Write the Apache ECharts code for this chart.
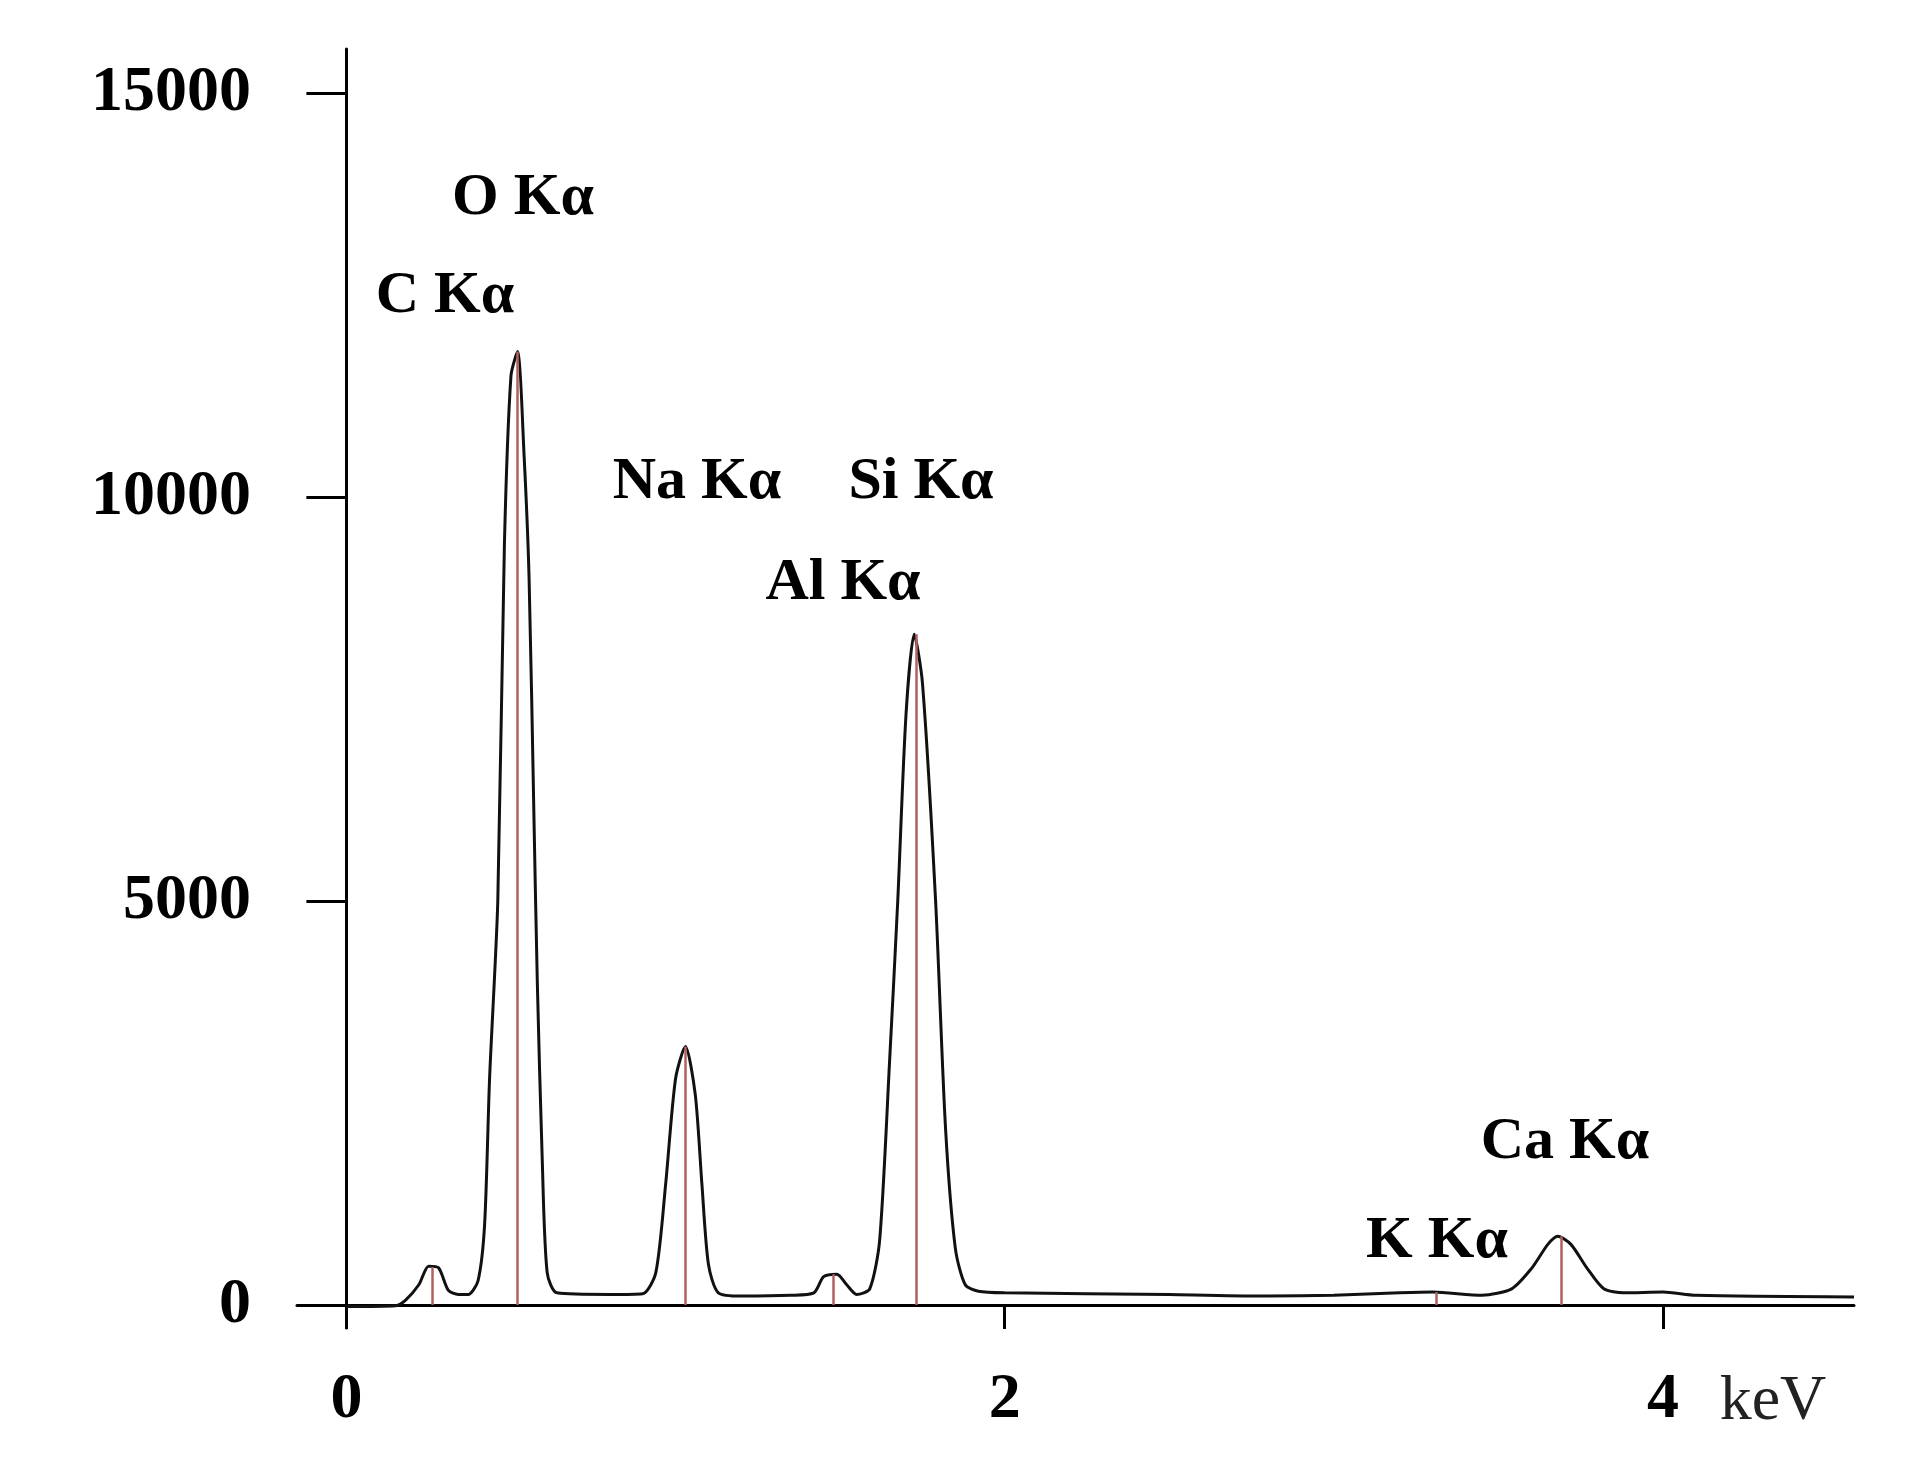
<!DOCTYPE html>
<html><head><meta charset="utf-8">
<script src="https://cdn.jsdelivr.net/npm/echarts@6/dist/echarts.min.js"></script>
<style>html,body{margin:0;background:#fff}#c{width:1928px;height:1470px}</style>
</head><body><div id="c"></div>
<script>
const energy = [0,0.15,0.18,0.22,0.25,0.28,0.31,0.34,0.37,0.40,0.42,0.435,0.46,0.48,0.50,0.52,0.54,0.555,0.57,0.58,0.595,0.61,0.64,0.8,0.90,0.94,0.97,1.0,1.03,1.06,1.08,1.10,1.13,1.2,1.35,1.42,1.45,1.49,1.52,1.55,1.59,1.62,1.65,1.675,1.70,1.725,1.75,1.79,1.82,1.85,1.88,1.92,2.0,2.5,2.8,3.0,3.2,3.3,3.45,3.54,3.60,3.65,3.68,3.72,3.77,3.82,3.88,4.0,4.1,4.58];
const counts = [-20,-10,60,250,480,460,180,130,130,300,1000,2800,5000,9400,11500,11800,10500,9000,6000,4000,1800,400,150,130,140,400,1500,2800,3200,2600,1500,500,150,110,120,150,350,380,250,130,200,800,3000,5000,7300,8300,7700,5000,2200,700,250,170,150,130,110,120,150,160,120,200,450,750,850,750,450,200,150,160,120,100];
const peakNames = ["C Kα","O Kα","Na Kα","Al Kα","Si Kα","K Kα","Ca Kα"];
const peakEnergy = [0.26,0.52,1.03,1.48,1.73,3.31,3.69];
const peakHeight = [470,11800,3200,380,8300,160,850];
const labelPos = [[445,296],[523,198],[697,482],[843,583],[921,482],[1437,1241],[1565,1142]];
const yTicks = [0,5000,10000,15000];
const xTicks = [0,2,4];
const font = "'Liberation Serif', 'DejaVu Serif', serif";
const chart = echarts.init(document.getElementById('c'));
chart.setOption({
  animation:false,
  grid:{left:297,top:49,width:1557,height:1279},
  xAxis:{type:'value',min:-0.15,max:4.58,
    axisLine:{onZero:true,lineStyle:{color:'#000',width:3}},
    splitLine:{show:false},
    axisTick:{customValues:xTicks,length:24,lineStyle:{color:'#000',width:3}},
    axisLabel:{customValues:xTicks,margin:40,fontFamily:font,fontWeight:'bold',fontSize:64,color:'#000'}},
  yAxis:{type:'value',min:-285,max:15545,
    axisLine:{show:true,onZero:true,lineStyle:{color:'#000',width:3}},
    splitLine:{show:false},
    axisTick:{customValues:yTicks,length:40,lineStyle:{color:'#000',width:3}},
    axisLabel:{customValues:yTicks,formatter:v=>String(v),margin:46,fontFamily:font,fontWeight:'bold',fontSize:64,color:'#000'}},
  series:[{type:'line',data:energy.map((e,i)=>[e,counts[i]]),smooth:0.25,symbol:'none',
    lineStyle:{color:'#111',width:3},
    markLine:{symbol:'none',silent:true,label:{show:false},
      lineStyle:{color:'#b06060',width:2.5,type:'solid'},
      data:peakEnergy.map((e,i)=>[{coord:[e,0]},{coord:[e,peakHeight[i]]}])}}],
  graphic:peakNames.map((n,i)=>({type:'text',x:labelPos[i][0],y:labelPos[i][1],
    style:{text:n,font:`bold 60px ${font}`,fill:'#000',align:'center',verticalAlign:'middle'}}))
   .concat([{type:'text',x:1773,y:1402,style:{text:'keV',font:`64px ${font}`,fill:'#222',align:'center',verticalAlign:'middle'}}])
});
</script></body></html>
